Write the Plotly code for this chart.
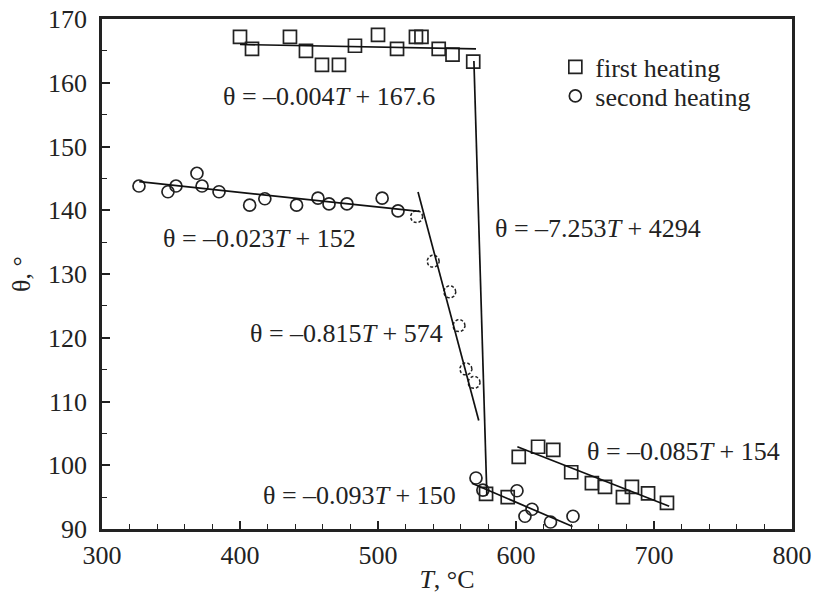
import numpy as np
import plotly.graph_objects as go

# ---------------- data ----------------
first_T = [400, 408.7, 436.2, 447.8, 459.4, 471.7, 483.3, 500, 513.8, 527.5, 531.5,
           544, 554, 569, 578.3, 594, 602, 616, 627, 640, 655, 664.5, 677.5, 684,
           695.7, 709.4]
first_theta = [167.2, 165.3, 167.2, 165.0, 162.8, 162.8, 165.8, 167.5, 165.3, 167.2,
               167.2, 165.3, 164.4, 163.3, 95.5, 95.0, 101.3, 102.9, 102.4, 98.9,
               97.2, 96.6, 95.0, 96.6, 95.6, 94.1]

second_T = [326.8, 347.8, 353.6, 368.8, 372.5, 384.8, 407, 418, 441, 456.5, 464.5,
            477.5, 503, 514.5, 571, 576, 600.7, 611.6, 606.5, 625, 641.3]
second_theta = [143.8, 142.9, 143.8, 145.8, 143.8, 142.9, 140.8, 141.8, 140.8, 141.9,
                141.0, 141.0, 141.9, 139.9, 98.0, 96.1, 96.0, 93.1, 92.0, 91.1, 92.0]

# second heating points drawn with dashed outline
second_dash_T = [528, 540, 552, 558.7, 563.7, 569.6]
second_dash_theta = [139.0, 132.0, 127.2, 121.9, 115.1, 113.0]

# linear fits: slope, intercept, T start, T end
fit_slope = [-0.004, -0.023, -7.253, -0.815, -0.085, -0.093]
fit_intercept = [167.6, 152, 4294, 574, 154, 150]
fit_T_start = [400, 327, 569.5, 529, 601, 568]
fit_T_end = [571, 530, 578.9, 573, 711, 641]

fit_labels = ["θ = –0.004<i>T</i> + 167.6", "θ = –0.023<i>T</i> + 152",
              "θ = –7.253<i>T</i> + 4294", "θ = –0.815<i>T</i> + 574",
              "θ = –0.085<i>T</i> + 154", "θ = –0.093<i>T</i> + 150"]
label_T = [386, 343, 583, 406, 650, 415]
label_theta = [157.9, 135.5, 137.2, 120.7, 102.2, 95.3]

x_ticks = [300, 400, 500, 600, 700, 800]
y_ticks = [90, 100, 110, 120, 130, 140, 150, 160, 170]

# ---------------- layout constants ----------------
W, H = 817, 594
ML, MR, MT, MB = 102, 25, 19, 65
XR = (300, 800)
YR = (90, 170)
FONT = "Liberation Serif, Times New Roman, serif"
FS = 26
INK = "#222"

fig = go.Figure()

fig.add_trace(go.Scatter(
    x=first_T, y=first_theta, mode="markers", name="first heating", legend="legend",
    marker=dict(symbol="square-open", size=13, color=INK, line=dict(width=1.7, color=INK)),
))
fig.add_trace(go.Scatter(
    x=second_T, y=second_theta, mode="markers", name="second heating", legend="legend2",
    marker=dict(symbol="circle-open", size=12, color=INK, line=dict(width=1.7, color=INK)),
))

# dashed circles: radius in pixels converted to data units via the axis scale
px_per_T = (W - ML - MR) / (XR[1] - XR[0])
px_per_th = (H - MT - MB) / (YR[1] - YR[0])
r_px = 6.0
ang = np.linspace(0, 2 * np.pi, 41)
cx, cy = [], []
for t, th in zip(second_dash_T, second_dash_theta):
    cx += list(t + r_px / px_per_T * np.cos(ang)) + [None]
    cy += list(th + r_px / px_per_th * np.sin(ang)) + [None]
fig.add_trace(go.Scatter(
    x=cx, y=cy, mode="lines", showlegend=False, hoverinfo="skip",
    line=dict(color=INK, width=1.5, dash="3px,2px"),
))

for s, b, t0, t1 in zip(fit_slope, fit_intercept, fit_T_start, fit_T_end):
    fig.add_trace(go.Scatter(
        x=[t0, t1], y=[s * t0 + b, s * t1 + b], mode="lines",
        showlegend=False, hoverinfo="skip",
        line=dict(color="#111", width=1.7),
    ))

for txt, t, th in zip(fit_labels, label_T, label_theta):
    fig.add_annotation(x=t, y=th, text=txt, showarrow=False, xanchor="left",
                       yanchor="middle", font=dict(family=FONT, size=FS, color=INK))

axis_common = dict(
    showline=True, linecolor=INK, linewidth=2.5, mirror=True, automargin=False,
    ticks="inside", ticklen=8, tickwidth=1.5, tickcolor=INK,
    showgrid=False, zeroline=False, ticklabeloverflow="allow",
    tickfont=dict(family=FONT, size=FS, color=INK),
)

fig.update_xaxes(range=list(XR), tickvals=x_ticks, ticklabelstandoff=1,
                 minor=dict(ticks="inside", dtick=20, ticklen=5, tickwidth=1.2, tickcolor=INK),
                 title=dict(text="<i>T</i>, °C", font=dict(family=FONT, size=FS, color=INK),
                            standoff=7),
                 **axis_common)
fig.update_yaxes(range=list(YR), tickvals=y_ticks, ticklabelstandoff=7,
                 minor=dict(ticks="inside", dtick=5, ticklen=5, tickwidth=1.2, tickcolor=INK),
                 title=dict(text="θ, °", font=dict(family=FONT, size=FS, color=INK),
                            standoff=10),
                 **axis_common)

legend_common = dict(xanchor="left", yanchor="middle", bgcolor="rgba(0,0,0,0)",
                     font=dict(family=FONT, size=FS, color=INK), itemwidth=30)
fig.update_layout(
    width=W, height=H,
    margin=dict(l=ML, r=MR, t=MT, b=MB, autoexpand=False),
    paper_bgcolor="white", plot_bgcolor="white",
    font=dict(family=FONT, size=FS, color=INK),
    showlegend=True,
    legend=dict(x=0.657, y=0.906, **legend_common),
    legend2=dict(x=0.657, y=0.849, **legend_common),
)

fig.write_html("out.html", config={"displayModeBar": False},
               post_script="document.body.style.margin='0';document.body.style.overflow='hidden';")
